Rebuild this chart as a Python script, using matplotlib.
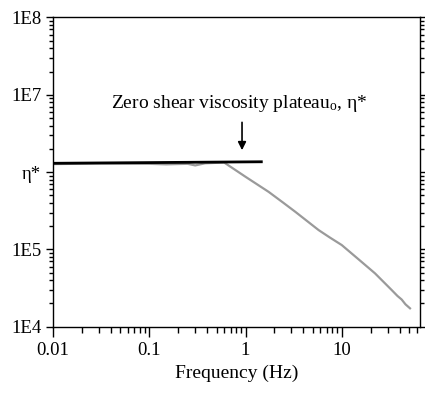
import matplotlib
matplotlib.use("Agg")
import matplotlib.pyplot as plt
import matplotlib.ticker as mticker
import numpy as np

plt.rcParams['font.family'] = ['Liberation Serif', 'DejaVu Serif']
plt.rcParams['mathtext.fontset'] = 'custom'
plt.rcParams['mathtext.rm'] = 'Liberation Serif'
plt.rcParams['mathtext.it'] = 'Liberation Serif:italic'

# measured complex viscosity vs frequency (grey curve)
freq = [0.01, 0.03, 0.1, 0.15, 0.25, 0.3, 0.38, 0.6, 1.0, 1.74, 2.5, 3.3,
        5.75, 7.5, 10.0, 15.0, 22.2, 33.1, 38.0, 42.0, 46.0, 51.3]
visc = [1.27e6, 1.29e6, 1.28e6, 1.26e6, 1.28e6, 1.22e6, 1.30e6, 1.33e6, 8.7e5,
        5.55e5, 3.97e5, 3.06e5, 1.78e5, 1.43e5, 1.14e5, 7.43e4, 4.9e4, 2.98e4,
        2.5e4, 2.25e4, 1.95e4, 1.73e4]

# zero shear plateau line (black)
plat_x = [0.01, 1.46]
plat_y = [1.30e6, 1.36e6]

ytick_vals = [1e4, 1e5, 1e6, 1e7, 1e8]
ytick_labels = ["1E4", "1E5", "η*", "1E7", "1E8"]
xtick_vals = [0.01, 0.1, 1, 10]
xtick_labels = ["0.01", "0.1", "1", "10"]

fig = plt.figure(figsize=(4.25, 3.97), dpi=100)
ax = fig.add_axes([0.125, 0.177, 0.863, 0.779])

ax.plot(freq, visc, color="#9a9a9a", lw=1.6)
ax.plot(plat_x, plat_y, color="black", lw=2.0)

ax.set_xscale("log")
ax.set_yscale("log")
ax.set_xlim(0.01, 65)
ax.set_ylim(1e4, 1e8)

ax.set_xticks(xtick_vals)
ax.set_xticklabels(xtick_labels)
ax.set_yticks(ytick_vals)
ax.set_yticklabels(ytick_labels)
ax.xaxis.set_minor_locator(mticker.LogLocator(base=10, subs=np.arange(2, 10)))
ax.yaxis.set_minor_locator(mticker.LogLocator(base=10, subs=np.arange(2, 10)))
ax.xaxis.set_minor_formatter(mticker.NullFormatter())
ax.yaxis.set_minor_formatter(mticker.NullFormatter())

ax.tick_params(axis="x", which="major", direction="out", length=7, width=1,
               labelsize=13.5, top=False, pad=4)
ax.tick_params(axis="x", which="minor", direction="out", length=4, width=1, top=False)
ax.tick_params(axis="y", which="major", direction="out", length=5, width=1,
               labelsize=13.5, left=True, right=True, labelright=False)
ax.tick_params(axis="y", which="minor", direction="out", length=3, width=1,
               left=True, right=True)

for s in ax.spines.values():
    s.set_linewidth(1.0)

ax.set_xlabel("Frequency (Hz)", fontsize=14, labelpad=4)

ax.text(0.85, 7.8e6, r"Zero shear viscosity plateau$_{\mathrm{o}}$, η*",
        ha="center", va="center", fontsize=14)
ax.annotate("", xy=(0.92, 1.92e6), xytext=(0.92, 4.4e6),
            arrowprops=dict(arrowstyle="-|>", color="black", lw=1.2,
                            mutation_scale=12, shrinkA=0, shrinkB=0))

fig.savefig("out.png", dpi=100)
